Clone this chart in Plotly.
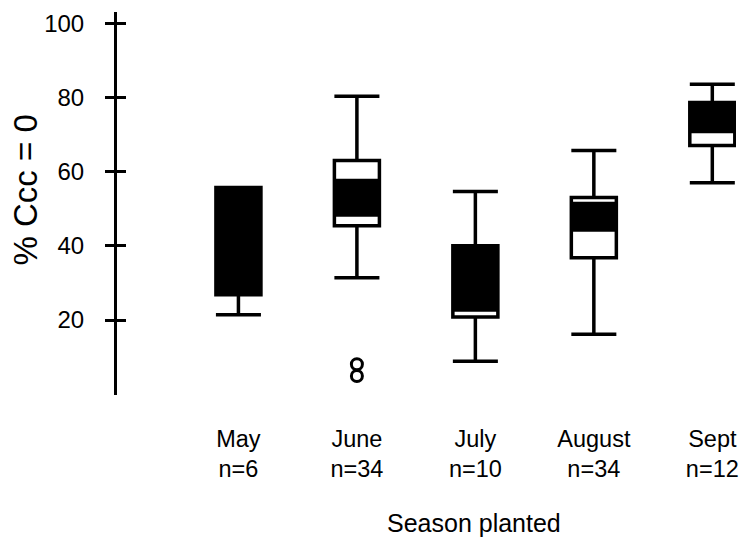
import plotly.graph_objects as go

months = ["May", "June", "July", "August", "Sept"]
counts = [6, 34, 10, 34, 12]
lower_whisker = [21.4, 31.4, 8.9, 16.2, 57.0]
q1 = [26.8, 45.4, 20.8, 36.8, 67.0]
median = [41.0, 53.0, 31.0, 48.0, 74.0]
q3 = [55.7, 63.0, 40.0, 53.0, 78.6]
upper_whisker = [55.7, 80.3, 54.6, 65.7, 83.5]
band_low = [26.8, 47.8, 22.2, 43.8, 70.3]
band_high = [55.7, 58.1, 40.0, 51.9, 78.6]
outlier_month = [1, 1]
outlier_values = [4.9, 8.1]

x_title = "Season planted"
y_title = "% Ccc = 0"

pos = list(range(len(months)))
ticktext = [f"{m}<br>n={n}" for m, n in zip(months, counts)]
W = 0.38
font = "Liberation Sans, Arial, Helvetica, sans-serif"

fig = go.Figure()
fig.add_trace(go.Bar(
    x=pos, y=[h - l for h, l in zip(band_high, band_low)], base=band_low,
    width=W, marker=dict(color="black", line=dict(width=0)), showlegend=False,
))
fig.add_trace(go.Box(
    x=pos, q1=q1, median=median, q3=q3,
    lowerfence=lower_whisker, upperfence=upper_whisker,
    width=W, whiskerwidth=1, fillcolor="rgba(0,0,0,0)",
    line=dict(color="black", width=3.5), boxpoints=False, showlegend=False,
))
fig.add_trace(go.Scatter(
    x=outlier_month, y=outlier_values, mode="markers",
    marker=dict(symbol="circle-open", size=11, color="black", line=dict(width=3)),
    showlegend=False,
))

fig.update_layout(
    width=743, height=538,
    margin=dict(l=117, r=4, t=12, b=143),
    paper_bgcolor="white", plot_bgcolor="white",
    font=dict(family=font, color="black", size=24),
    barmode="overlay",
    xaxis=dict(
        range=[-1.025, 4.2], tickvals=pos, ticktext=ticktext,
        showline=False, showgrid=False, zeroline=False, ticks="",
        ticklabelstandoff=27, tickfont=dict(size=23.5),
    ),
    yaxis=dict(
        range=[-0.2, 103], tickvals=[20, 40, 60, 80, 100],
        showline=True, linecolor="black", linewidth=3,
        ticks="outside", ticklen=9, tickwidth=2.5, tickcolor="black",
        ticklabelstandoff=16, showgrid=False, zeroline=False,
        tickfont=dict(size=24),
    ),
    yaxis2=dict(
        range=[-0.2, 103], tickvals=[20, 40, 60, 80, 100], overlaying="y",
        side="left", anchor="x", showline=False, showgrid=False, zeroline=False,
        ticks="inside", ticklen=9, tickwidth=2.5, tickcolor="black",
        showticklabels=False,
    ),
    annotations=[
        dict(text=x_title, xref="paper", yref="paper", x=0.577, y=-0.334,
             xanchor="center", yanchor="middle", showarrow=False,
             font=dict(size=25)),
        dict(text=y_title, xref="paper", yref="paper", x=-0.148, y=0.535,
             xanchor="center", yanchor="middle", showarrow=False,
             textangle=-90, font=dict(size=33)),
    ],
)
fig.add_trace(go.Scatter(x=[None], y=[None], yaxis="y2", showlegend=False))

fig.write_html("out.html")
